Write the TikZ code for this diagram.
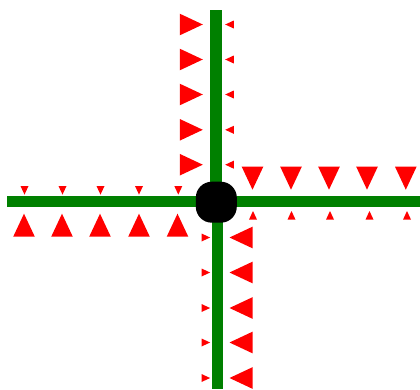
\documentclass[tikz,border=0pt]{standalone}
\usetikzlibrary{backgrounds}
\definecolor{roadgreen}{RGB}{0,128,0}
\definecolor{trired}{RGB}{255,0,0}
\tikzset{
  road/.style={draw=roadgreen, line width=11.5pt, line cap=butt},
  hroad/.style={draw=roadgreen, line width=10.8pt, line cap=butt},
  junction/.style={fill=black, minimum size=41pt, inner sep=0pt, rounded corners=16pt, draw=none},
  bigtri/.pic={\fill[trired] (-11.5,-10.8) -- (11.5,0) -- (-11.5,10.8) -- cycle;},
  smalltri/.pic={\fill[trired] (-4.3,-4) -- (4.3,0) -- (-4.3,4) -- cycle;}
}
\begin{document}
\begin{tikzpicture}[x=1pt,y=-1pt]
\useasboundingbox (0,0) rectangle (420,389);
\node[junction] (c) at (216.3,202.2) {};
\coordinate (topend) at (216,10);
\coordinate (botend) at (217.6,389);
\coordinate (leftend) at (6.7,201.8);
\coordinate (rightend) at (420,201.5);
\begin{scope}[on background layer]
  \draw[road] (c.center -| topend) -- (topend);
  \draw[road] (c.center -| botend) -- (botend);
  \draw[hroad] (c.center |- leftend) -- (leftend);
  \draw[hroad] (c.center |- rightend) -- (rightend);
\end{scope}
% top branch
\foreach \y in {24.5,59.5,94.5,129.8,164.7} {
  \pic at (191.3,\y) {bigtri};
  \pic[rotate=180] at (229.5,\y) {smalltri};
}
% left branch
\foreach \x/\xs in {24/24.5,62/62.5,100/100.5,139/139,177.5/178.3} {
  \pic[rotate=90] at (\x,225.2) {bigtri};
  \pic[rotate=-90] at (\xs,190.3) {smalltri};
}
% right branch
\foreach \x/\xs in {252.5/253,291/291.5,329/330,367/369.5,405.8/407} {
  \pic[rotate=-90] at (\x,178.2) {bigtri};
  \pic[rotate=90] at (\xs,215.3) {smalltri};
}
% bottom branch
\foreach \y in {237.5,272.5,308,342.5,378} {
  \pic[rotate=180] at (241,\y) {bigtri};
  \pic at (205.8,\y) {smalltri};
}
\end{tikzpicture}
\end{document}
